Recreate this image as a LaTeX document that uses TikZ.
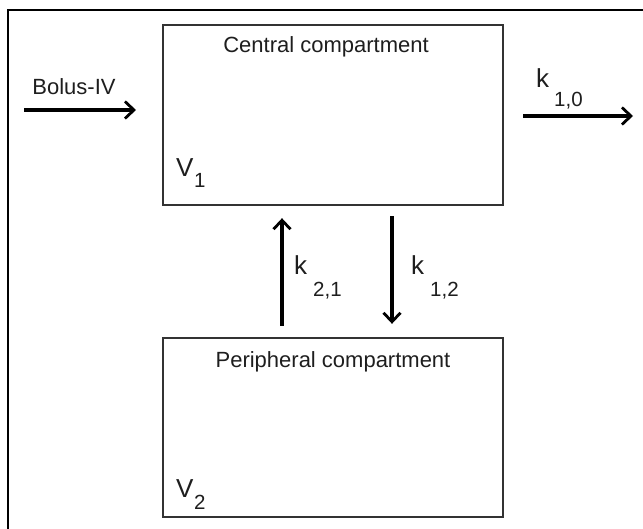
\documentclass[tikz,border=0pt]{standalone}
\usepackage{fontspec}
\setmainfont{Liberation Sans}
\usetikzlibrary{arrows.meta}
\definecolor{ink}{HTML}{1E1E1E}
\definecolor{boxline}{HTML}{333333}
\tikzset{
  compbox/.style={draw=boxline, line width=2.4pt, minimum width=340pt, inner sep=0pt},
  lbl/.style={inner sep=0pt, text=ink, font=\fontsize{22}{25}\selectfont},
  big/.style={inner sep=0pt, anchor=base west, text=ink, font=\fontsize{26}{30}\selectfont},
  sub/.style={inner sep=0pt, anchor=base west, text=ink, font=\fontsize{20.5}{23}\selectfont},
  flow/.style={line width=3.4pt, -{Straight Barb[length=9pt, width=17pt, line width=2.8pt]}}
}
\begin{document}
\begin{tikzpicture}[x=1pt, y=-1pt]
\useasboundingbox (0,0) rectangle (643,529);
% outer frame (top and left only)
\draw[line width=2.4pt] (8,529) -- (8,10) -- (643,10);
% compartments
\node[compbox, minimum height=180pt] (cen) at (333,115) {};
\node[compbox, minimum height=179pt] (per) at (333,427.5) {};
\node[lbl] (cenlbl) at (326,47) {Central compartment};
\node[lbl] (perlbl) at (333,362) {Peripheral compartment};
\node[big] (v1) at (176,177) {V};
\node[sub] (v1s) at (194,188) {1};
\node[big] (v2) at (176,497) {V};
\node[sub] (v2s) at (194,509) {2};
% bolus
\coordinate (bin) at (24,110);
\coordinate (bout) at (136,110);
\draw[flow] (bin) -- (bout);
\node[lbl] (bolus) at (74,87) {Bolus-IV};
% elimination
\coordinate (ein) at (523,116);
\coordinate (eout) at (633,116);
\draw[flow] (ein) -- (eout);
\node[big] (k10) at (536,88) {k};
\node[sub] (k10s) at (554,107) {1,0};
% exchange
\coordinate (xa) at (282,0);
\coordinate (xb) at (392,0);
\draw[flow, shorten <=11pt, shorten >=12pt] (per.north -| xa) -- (cen.south -| xa);
\draw[flow, shorten <=10pt, shorten >=13pt] (cen.south -| xb) -- (per.north -| xb);
\node[big] (k21) at (294,275) {k};
\node[sub] (k21s) at (313,297) {2,1};
\node[big] (k12) at (411,275) {k};
\node[sub] (k12s) at (430,297) {1,2};
\end{tikzpicture}
\end{document}
